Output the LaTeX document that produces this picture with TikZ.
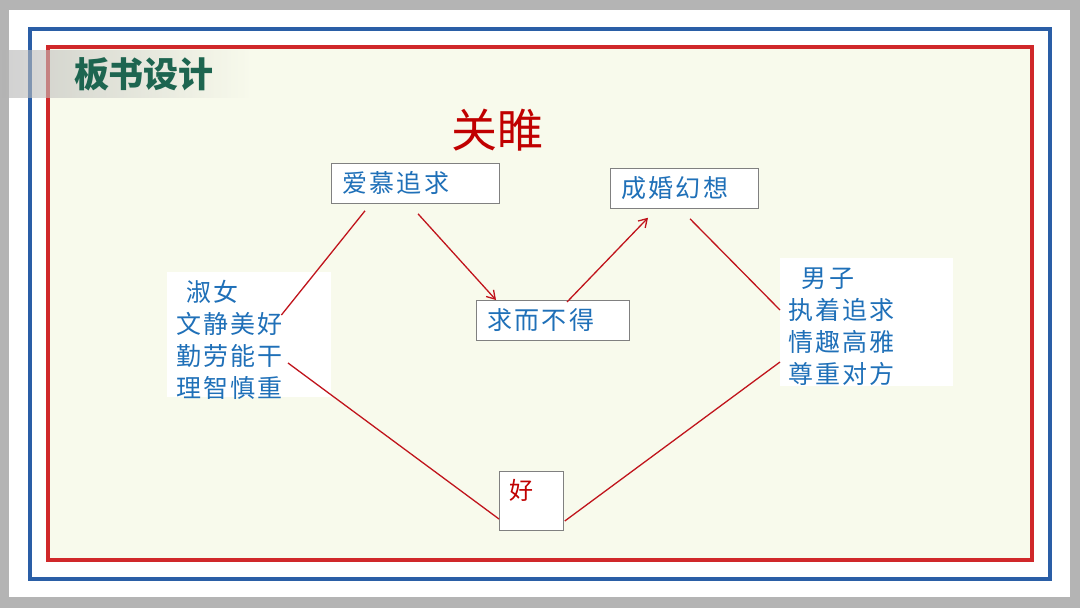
\documentclass[tikz,border=0pt]{standalone}
\usepackage{fontspec}
\newfontfamily\cjk{Noto Sans CJK SC}
\newfontfamily\cjkwide[LetterSpace=9]{Noto Sans CJK SC}
\usepackage{tikz}
\usetikzlibrary{positioning,arrows.meta}
\definecolor{pagegray}{HTML}{B4B4B4}
\definecolor{cream}{HTML}{F8FAEC}
\definecolor{framred}{HTML}{D0282A}
\definecolor{framblue}{HTML}{2A5EA6}
\definecolor{txtblue}{HTML}{1F70B8}
\definecolor{txtred}{HTML}{C00000}
\definecolor{linered}{HTML}{C0141C}
\definecolor{titlegreen}{HTML}{1D6550}
\definecolor{boxgray}{HTML}{808080}

\begin{document}
\begin{tikzpicture}[x=1pt,y=-1pt,
  gbox/.style={draw=boxgray,fill=white,line width=0.8pt,inner xsep=11pt,inner ysep=0pt,anchor=north west,align=left},
  wbox/.style={fill=white,inner sep=0pt,anchor=north west},
  btxt/.style={text=txtblue,font=\cjkwide\fontsize{25}{32}\selectfont},
  link/.style={draw=linered,line width=1.3pt},
  flow/.style={link,-{Straight Barb[length=8pt,width=10pt]}}]
		\useasboundingbox (0,0) rectangle (1080,608);
		%Page and frames
		\fill[pagegray] (0,0) rectangle (1080,608);
		\fill[white] (9,10) rectangle (1070,597);
		\draw[framblue,line width=4pt] (30,29) rectangle (1050,579);
		\fill[cream] (48,47) rectangle (1032,560);
		\draw[framred,line width=4pt] (48,47) rectangle (1032,560);
		\shade[left color=gray!60,right color=cream,opacity=0.6] (2,50) rectangle (250,97);
		\node[text=titlegreen,font=\cjk\bfseries\fontsize{35}{35}\selectfont] (head) at (144,74) {板书设计};
		\node[text=txtred,font=\cjk\fontsize{46}{46}\selectfont] (poem) at (497,130) {关睢};
		%Boxes of the plot
		\node[gbox,btxt,text width=146,minimum height=40] (aimu) at (331,163) {爱慕追求};
		\node[gbox,btxt,text width=126,minimum height=40] (hun) at (610,168) {成婚幻想};
		\node[gbox,btxt,text width=131,minimum height=40] (qiu) at (476,300) {求而不得};
		\node[wbox,minimum width=164,minimum height=125] (shu) at (167,272) {};
		\node[btxt,anchor=north west,align=left,inner sep=0pt] (shutxt) at ([shift={(9,8)}]shu.north west) {\hspace{0.4em}淑女\\文静美好\\勤劳能干\\理智慎重};
		\node[wbox,minimum width=173,minimum height=128] (nan) at (780,258) {};
		\node[btxt,anchor=north west,align=left,inner sep=0pt] (nantxt) at ([shift={(8,10)}]nan.north west) {\hspace{0.55em}男子\\执着追求\\情趣高雅\\尊重对方};
		\node[draw=boxgray,fill=white,line width=0.8pt,inner sep=0pt,minimum width=64,minimum height=59,anchor=north west] (hao) at (499,471) {};
		\node[text=txtred,font=\cjk\fontsize{24}{24}\selectfont,inner sep=0pt,anchor=north west] (haotxt) at ([shift={(10,8)}]hao.north west) {好};
		%Connectors
		\draw[link] ([shift={(34,7)}]aimu.south west) -- ([shift={(-50,43)}]shu.north east);
		\draw[flow] ([shift={(87,10)}]aimu.south west) -- ([shift={(20,0)}]qiu.north west);
		\draw[flow] ([shift={(91,2)}]qiu.north west) -- ([shift={(38,9)}]hun.south west);
		\draw[link] ([shift={(80,10)}]hun.south west) -- ([shift={(0,52)}]nan.north west);
		\draw[link] ([shift={(121,91)}]shu.north west) -- ([shift={(0,48)}]hao.north west);
		\draw[link] ([shift={(1,50)}]hao.north east) -- ([shift={(0,104)}]nan.north west);
\end{tikzpicture}
\end{document}
